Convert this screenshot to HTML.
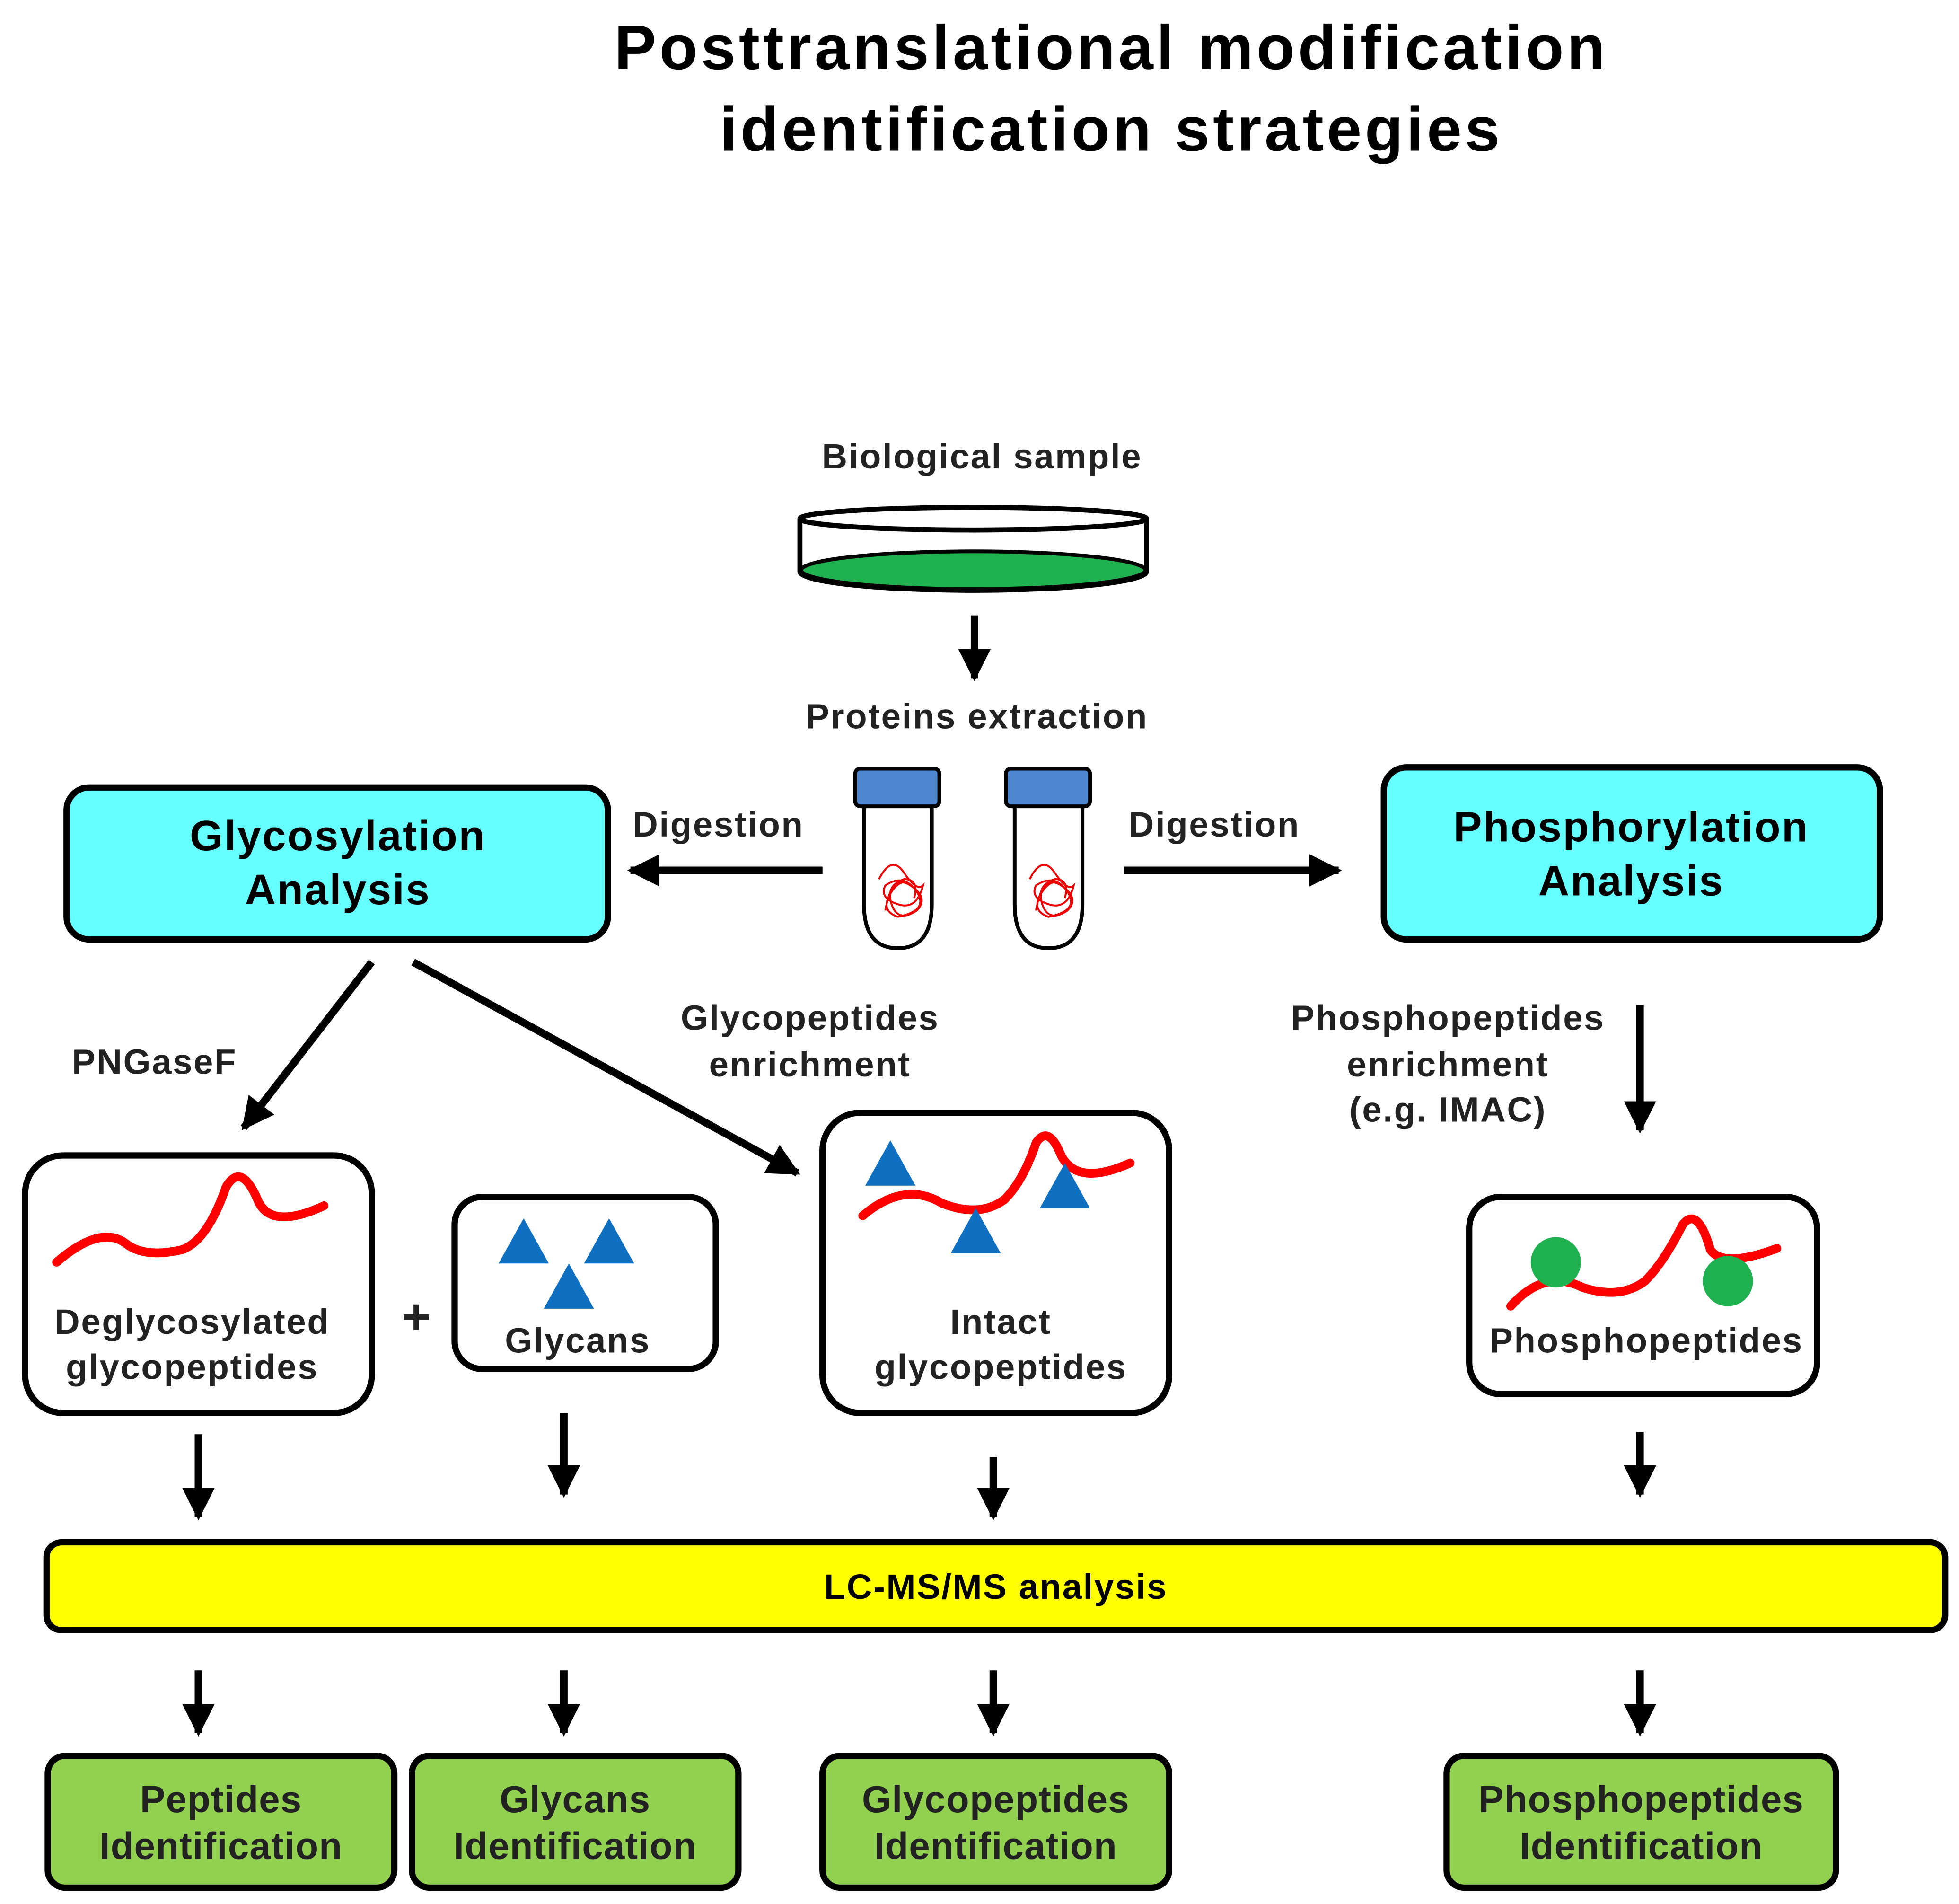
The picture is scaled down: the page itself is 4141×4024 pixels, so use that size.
<!DOCTYPE html>
<html><head><meta charset="utf-8"><style>html,body{margin:0;padding:0;background:#fff}svg{display:block}</style></head>
<body>
<svg width="4141" height="4024" viewBox="0 0 1560 1516" xmlns="http://www.w3.org/2000/svg" font-family="Liberation Sans, Arial, sans-serif" font-weight="bold">
<defs>
<marker id="ah" viewBox="0 0 10 10" refX="9" refY="5" markerWidth="4.3" markerHeight="4.3" orient="auto" markerUnits="strokeWidth"><path d="M0,0 L10,5 L0,10 z" fill="#000"/></marker>
</defs>
<rect width="1560" height="1516" fill="#fff"/>
<g text-anchor="middle" font-size="50" letter-spacing="2.5">
<text x="885" y="55">Posttranslational modification</text>
<text x="885" y="120">identification strategies</text>
</g>
<g font-size="28" text-anchor="middle" fill="#222" letter-spacing="1">
<text x="782" y="373">Biological  sample</text>
<text x="778" y="580">Proteins extraction</text>
<text x="572" y="666">Digestion</text>
<text x="967" y="666">Digestion</text>
<text x="123" y="855">PNGaseF</text>
<text x="645" y="820">Glycopeptides</text>
<text x="645" y="857">enrichment</text>
<text x="1153" y="820">Phosphopeptides</text>
<text x="1153" y="857">enrichment</text>
<text x="1153" y="893">(e.g. IMAC)</text>
</g>
<path d="M637,413 L637,455 A138,15 0 0 0 913,455 L913,413" fill="#fff" stroke="#000" stroke-width="4"/>
<ellipse cx="775" cy="454" rx="137" ry="15" fill="#1fb050" stroke="#000" stroke-width="3"/>
<ellipse cx="775" cy="413" rx="138" ry="9" fill="#fff" stroke="#000" stroke-width="4"/>
<g stroke="#000" stroke-width="3">
<path d="M688,640 L688,720 Q688,755 715,755 Q742,755 742,720 L742,640 z" fill="#fff"/>
<rect x="681" y="612" width="67" height="30" rx="4" fill="#4f86d0"/>
<path d="M808,640 L808,720 Q808,755 835,755 Q862,755 862,720 L862,640 z" fill="#fff"/>
<rect x="801" y="612" width="67" height="30" rx="4" fill="#4f86d0"/>
</g>
<g fill="none" stroke="#e00" stroke-width="1.5">
<path d="M700,700 q10,-20 20,-5 t15,10 q-5,20 -20,15 t-10,-15 q15,-10 25,5 t-15,20 q-15,-5 -5,-20 t20,0 M705,725 q5,-30 20,-20 t5,20 q-15,10 -20,-5 t10,-20 q12,0 8,15"/>
<path d="M820,700 q10,-20 20,-5 t15,10 q-5,20 -20,15 t-10,-15 q15,-10 25,5 t-15,20 q-15,-5 -5,-20 t20,0 M825,725 q5,-30 20,-20 t5,20 q-15,10 -20,-5 t10,-20 q12,0 8,15"/>
</g>
<rect x="53" y="627" width="431" height="121" rx="18" fill="#66ffff" stroke="#000" stroke-width="5"/>
<rect x="1102" y="611" width="395" height="137" rx="18" fill="#66ffff" stroke="#000" stroke-width="5"/>
<g font-size="34" text-anchor="middle" letter-spacing="1">
<text x="269" y="677">Glycosylation</text><text x="269" y="720">Analysis</text>
<text x="1299" y="670">Phosphorylation</text><text x="1299" y="713">Analysis</text>
</g>
<g stroke="#000" stroke-width="6" marker-end="url(#ah)">
<line x1="776" y1="490" x2="776" y2="540"/>
<line x1="655" y1="693" x2="502" y2="693"/>
<line x1="895" y1="693" x2="1066" y2="693"/>
<line x1="296" y1="766" x2="194" y2="898"/>
<line x1="329" y1="766" x2="635" y2="934"/>
<line x1="1306" y1="800" x2="1306" y2="900"/>
<line x1="158" y1="1142" x2="158" y2="1208"/>
<line x1="449" y1="1125" x2="449" y2="1190"/>
<line x1="791" y1="1160" x2="791" y2="1208"/>
<line x1="1306" y1="1140" x2="1306" y2="1190"/>
<line x1="158" y1="1330" x2="158" y2="1380"/>
<line x1="449" y1="1330" x2="449" y2="1380"/>
<line x1="791" y1="1330" x2="791" y2="1380"/>
<line x1="1306" y1="1330" x2="1306" y2="1380"/>
</g>
<g fill="#fff" stroke="#000" stroke-width="5">
<rect x="20" y="920" width="276" height="205" rx="30"/>
<rect x="362" y="953" width="208" height="137" rx="22"/>
<rect x="655" y="886" width="276" height="239" rx="30"/>
<rect x="1170" y="953" width="277" height="157" rx="25"/>
</g>
<g fill="none" stroke="#f00" stroke-width="7" stroke-linecap="round">
<path d="M45,1005 Q80,975 100,990 Q115,1002 145,995 Q165,988 180,945 Q192,925 205,955 Q215,980 258,960"/>
<path d="M687,968 Q720,940 750,958 Q780,970 800,955 Q815,940 825,910 Q835,895 845,920 Q858,945 900,926"/>
<path d="M1203,1040 Q1230,1010 1260,1025 Q1290,1035 1310,1020 Q1325,1005 1340,975 Q1352,960 1362,995 Q1372,1010 1415,994"/>
</g>
<g fill="#0f6fc0">
<polygon points="417,970 397,1006 437,1006"/>
<polygon points="485,970 465,1006 505,1006"/>
<polygon points="453,1006 433,1042 473,1042"/>
<polygon points="709,908 689,944 729,944"/>
<polygon points="777,962 757,998 797,998"/>
<polygon points="848,926 828,962 868,962"/>
</g>
<g fill="#1fb050"><circle cx="1239" cy="1005" r="20"/><circle cx="1376" cy="1020" r="20"/></g>
<g font-size="28" text-anchor="middle" fill="#222" letter-spacing="1">
<text x="153" y="1062">Deglycosylated</text><text x="153" y="1098">glycopeptides</text>
<text x="460" y="1077">Glycans</text>
<text x="797" y="1062">Intact</text><text x="797" y="1098">glycopeptides</text>
<text x="1311" y="1077">Phosphopeptides</text>
<text x="332" y="1062" font-size="40">+</text>
</g>
<rect x="37" y="1228" width="1512" height="70" rx="12" fill="#ffff00" stroke="#000" stroke-width="5"/>
<text x="793" y="1273" font-size="28" text-anchor="middle" letter-spacing="1">LC-MS/MS analysis</text>
<g fill="#92d050" stroke="#000" stroke-width="5">
<rect x="38" y="1398" width="276" height="105" rx="14"/>
<rect x="328" y="1398" width="260" height="105" rx="14"/>
<rect x="655" y="1398" width="276" height="105" rx="14"/>
<rect x="1152" y="1398" width="310" height="105" rx="14"/>
</g>
<g font-size="30" text-anchor="middle" fill="#222" letter-spacing="0.5">
<text x="176" y="1443">Peptides</text><text x="176" y="1480">Identification</text>
<text x="458" y="1443">Glycans</text><text x="458" y="1480">Identification</text>
<text x="793" y="1443">Glycopeptides</text><text x="793" y="1480">Identification</text>
<text x="1307" y="1443">Phosphopeptides</text><text x="1307" y="1480">Identification</text>
</g>
</svg>
</body></html>
